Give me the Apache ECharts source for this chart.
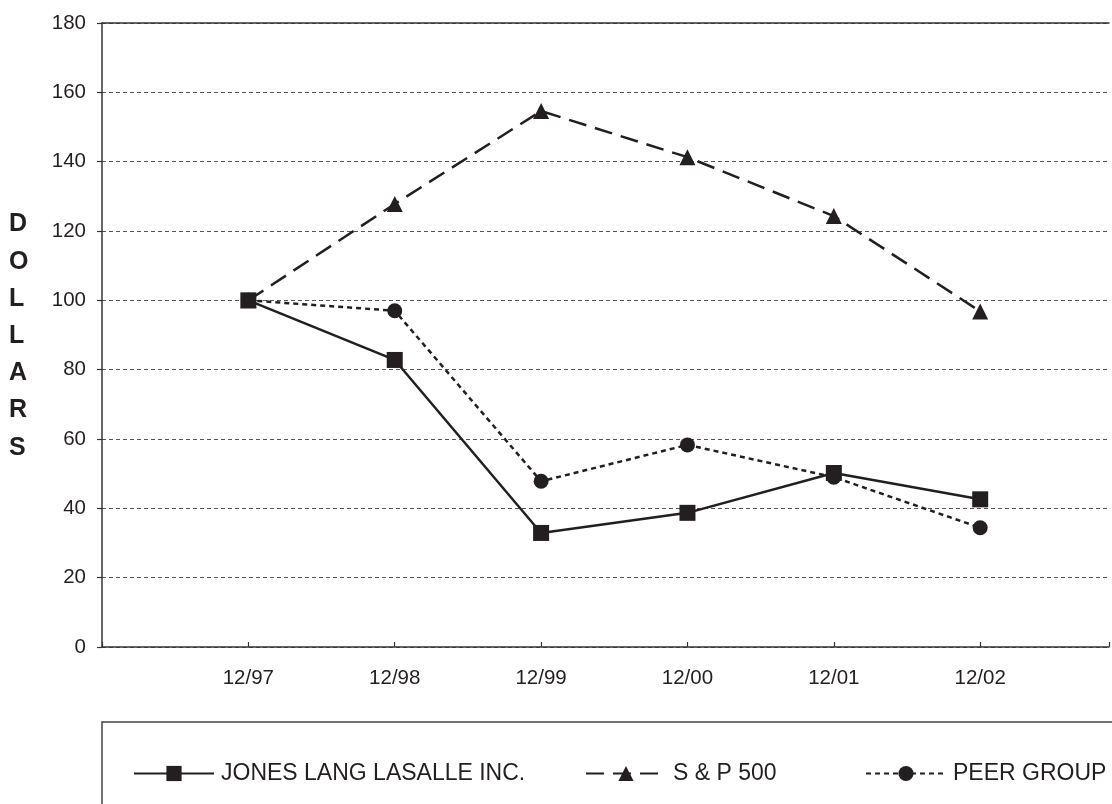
<!DOCTYPE html>
<html>
<head>
<meta charset="utf-8">
<script src="https://cdn.jsdelivr.net/npm/echarts@6/dist/echarts.min.js"></script>
<style>
html,body{margin:0;padding:0;background:#fff;}
#chart{width:1112px;height:804px;}
</style>
</head>
<body>
<div id="chart"></div>
<script>
const categories = ['12/97', '12/98', '12/99', '12/00', '12/01', '12/02'];
const jll = [100, 82.8, 32.9, 38.7, 50.2, 42.6];
const sp500 = [100, 127.8, 154.6, 141.3, 124.3, 96.8];
const peer = [100, 97.0, 47.8, 58.3, 49.0, 34.4];
const yTicks = [0, 20, 40, 60, 80, 100, 120, 140, 160, 180];
const seriesNames = ['JONES LANG LASALLE INC.', 'S & P 500', 'PEER GROUP'];

const ink = '#231f20';
const font = 'Liberation Sans, Arial, sans-serif';
const toPts = arr => arr.map((v, i) => [i, v]);

const chart = echarts.init(document.getElementById('chart'), null, {renderer: 'canvas'});

function legendFor(name, left) {
  return {
    data: [name],
    left: left,
    top: 757,
    itemWidth: 80,
    itemHeight: 19,
    itemGap: 0,
    selectedMode: false,
    textStyle: {fontFamily: font, fontSize: 23, color: ink, padding: [0, 0, 0, 2]}
  };
}

const xLabel = v => {
  const i = Math.round(v);
  return (Math.abs(v - i) < 1e-6 && i >= 0 && i < categories.length) ? categories[i] : '';
};

chart.setOption({
  backgroundColor: '#ffffff',
  animation: false,
  grid: {left: 102, top: 23, right: 2, height: 624, containLabel: false},
  legend: [
    legendFor(seriesNames[0], 128),
    legendFor(seriesNames[1], 580),
    legendFor(seriesNames[2], 860)
  ],
  xAxis: [{
    type: 'value',
    min: -1,
    max: 5.88,
    interval: 1,
    axisLine: {show: true, onZero: false, lineStyle: {color: '#333', width: 1.5}},
    axisTick: {show: true, inside: true, length: 5, lineStyle: {color: '#333', width: 1.2}},
    axisLabel: {fontFamily: font, fontSize: 20.5, color: ink, margin: 21, formatter: xLabel,
      showMinLabel: true, showMaxLabel: true},
    splitLine: {show: false}
  }, {
    type: 'value',
    min: -1,
    max: 5.88,
    interval: 1,
    position: 'top',
    axisLine: {show: true, onZero: false, lineStyle: {color: '#333', width: 1.5}},
    axisTick: {show: false},
    axisLabel: {show: false},
    splitLine: {show: false}
  }],
  yAxis: {
    type: 'value',
    min: 0,
    max: 180,
    interval: 20,
    axisLine: {show: true, onZero: false, lineStyle: {color: '#333', width: 1.5}},
    axisTick: {show: true, length: 5, lineStyle: {color: '#333', width: 1.2}},
    axisLabel: {fontFamily: font, fontSize: 20.5, color: ink, margin: 16,
      formatter: v => (yTicks.indexOf(v) >= 0 ? String(v) : '')},
    splitLine: {show: true, lineStyle: {color: '#555', width: 1, type: [4, 3]}}
  },
  graphic: [
    {
      type: 'text',
      left: 9,
      top: 206,
      style: {
        text: 'D\nO\nL\nL\nA\nR\nS',
        fontFamily: font,
        fontWeight: 'bold',
        fontSize: 25,
        lineHeight: 37.2,
        fill: ink,
        align: 'center'
      }
    },
    {
      type: 'rect',
      shape: {x: 102, y: 722, width: 1030, height: 120},
      style: {fill: 'none', stroke: '#444', lineWidth: 1.5},
      z: -1
    }
  ],
  series: [
    {
      name: seriesNames[0],
      type: 'line',
      data: toPts(jll),
      symbol: 'rect',
      symbolSize: 16,
      lineStyle: {color: ink, width: 2.5, type: 'solid'},
      itemStyle: {color: ink},
      z: 3
    },
    {
      name: seriesNames[1],
      type: 'line',
      data: toPts(sp500),
      symbol: 'triangle',
      symbolSize: 16,
      lineStyle: {color: ink, width: 2.5, type: [18, 9]},
      itemStyle: {color: ink},
      z: 2
    },
    {
      name: seriesNames[2],
      type: 'line',
      data: toPts(peer),
      symbol: 'circle',
      symbolSize: 15,
      lineStyle: {color: ink, width: 2.5, type: [5, 4]},
      itemStyle: {color: ink},
      z: 2
    }
  ]
});
</script>
</body>
</html>
